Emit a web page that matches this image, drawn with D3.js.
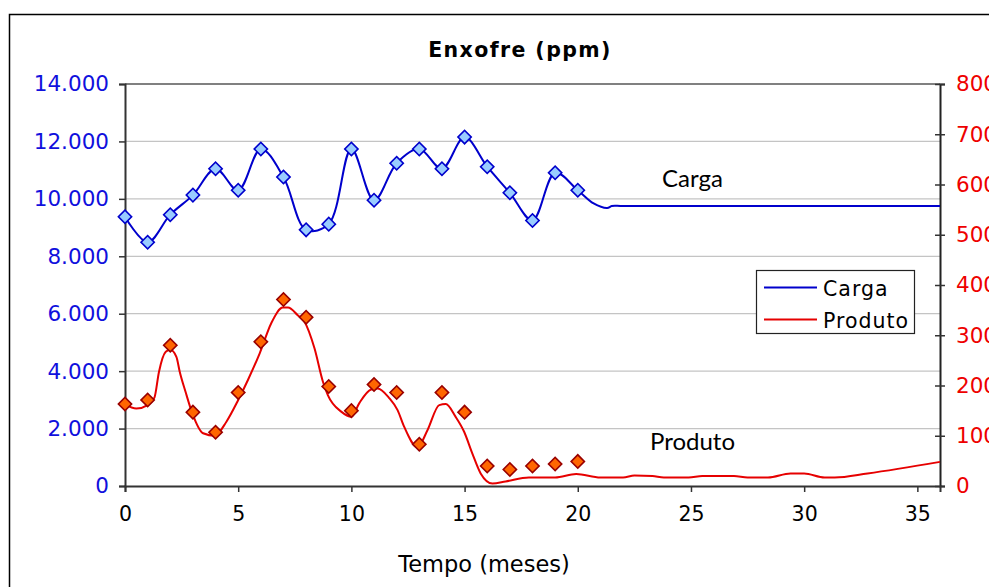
<!DOCTYPE html>
<html>
<head>
<meta charset="utf-8">
<script src="https://cdn.jsdelivr.net/npm/d3@7"></script>
<style>
  html, body { margin: 0; padding: 0; background: #fff; }
  svg { display: block; }
</style>
</head>
<body>
<svg id="chart" width="989" height="587"></svg>
<script>
// Enxofre (ppm): carga (eixo esquerdo) e produto (eixo direito) ao longo dos meses

// Medições mensais (marcadores)
const mesesMedidos = [0, 1, 2, 3, 4, 5, 6, 7, 8, 9, 10, 11, 12, 13, 14, 15, 16, 17, 18, 19, 20];
const cargaMedida = [9380, 8490, 9450, 10130, 11050, 10300, 11740, 10760, 8920, 9120, 11740,
                     9950, 11240, 11740, 11050, 12150, 11120, 10210, 9250, 10910, 10300];
const produtoMedido = [163, 171, 280, 147, 107, 186, 287, 371, 336, 198, 150,
                       202, 186, 83, 186, 147, 40, 33, 40, 44, 49];

// Curva da carga (linha azul)
const curvaCargaMes = [0, 1, 2, 3, 4, 5, 6, 7, 8, 9, 10, 11, 12, 13, 14, 15, 16, 17, 18, 19, 20,
                       20.7, 21.3, 21.5, 22, 36];
const curvaCargaValor = [9380, 8490, 9450, 10130, 11050, 10300, 11740, 10760, 8920, 9120, 11740,
                         9950, 11240, 11740, 11050, 12150, 11120, 10210, 9250, 10910, 10300,
                         9840, 9680, 9750, 9750, 9750];

// Curva do produto (linha vermelha)
const curvaProdutoMes = [0, 0.5, 1, 1.3, 1.5, 1.8, 2, 2.27, 2.42, 2.67, 2.97, 3.45, 3.96, 4.48, 5,
                         5.43, 5.95, 6.46, 6.97, 7.2, 7.63, 7.93, 8.37, 8.74, 8.96, 9.55, 10, 10.35,
                         10.87, 11.16, 11.67, 12.04, 12.33, 12.92, 13.36, 13.88, 14.17, 14.6, 14.98,
                         15.34, 15.71, 16.23, 16.81, 17.84, 19, 19.93, 21, 22, 22.5, 23.3, 23.8,
                         24.9, 25.5, 26.9, 27.5, 28.4, 29.4, 30, 30.9, 31.35, 32.8, 36];
const curvaProdutoValor = [163, 154, 161, 176, 227, 267, 271, 257, 227, 188, 145, 105, 100, 128, 171,
                           211, 264, 324, 355, 355, 340, 327, 274, 208, 181, 148, 138, 165,
                           192, 194, 175, 151, 118, 77, 111, 161, 163, 138, 108,
                           65, 25, 5, 9, 17, 17, 24, 17, 17, 21, 20, 17,
                           17, 20, 20, 17, 17, 25, 25, 17, 17, 25, 48];

const ticksEsquerda = [0, 2000, 4000, 6000, 8000, 10000, 12000, 14000];
const ticksDireita = [0, 100, 200, 300, 400, 500, 600, 700, 800];
const ticksMeses = [0, 5, 10, 15, 20, 25, 30, 35];

const titulo = "Enxofre (ppm)";
const tituloX = "Tempo (meses)";
const nomes = ["Carga", "Produto"];

const cores = {
  carga: "#0000cc", cargaFill: "#99ccff",
  produto: "#e60000", produtoFill: "#ff6600", produtoStroke: "#990000",
  rotEsq: "#1010dd", rotDir: "#ee0000"
};

const svg = d3.select("#chart");
const m = { left: 125, right: 940, top: 84, bottom: 486 };

const x = d3.scaleLinear().domain([0, 36]).range([m.left, m.right]);
const yL = d3.scaleLinear().domain([0, 14000]).range([m.bottom, m.top]);
const yR = d3.scaleLinear().domain([0, 800]).range([m.bottom, m.top]);

const fmtPt = v => d3.format(",.0f")(v).replace(/,/g, ".");

// Moldura externa
svg.append("rect")
  .attr("x", 9.5).attr("y", 14.5).attr("width", 1000).attr("height", 600)
  .attr("fill", "none").attr("stroke", "#000").attr("stroke-width", 1.5);

// Grade horizontal
svg.append("g").selectAll("line")
  .data(ticksEsquerda.filter(t => t > 0))
  .join("line")
  .attr("x1", m.left).attr("x2", m.right)
  .attr("y1", d => yL(d)).attr("y2", d => yL(d))
  .attr("stroke", d => d === 14000 ? "#808080" : "#c4c4c4")
  .attr("stroke-width", d => d === 14000 ? 2 : 1.2);

// Eixo esquerdo
const axL = svg.append("g").attr("transform", `translate(${m.left},0)`)
  .call(d3.axisLeft(yL).tickValues(ticksEsquerda).tickFormat(fmtPt).tickSize(6).tickPadding(10));
axL.select(".domain").attr("stroke", "#333").attr("stroke-width", 2);
axL.selectAll(".tick line").attr("stroke", "#333").attr("stroke-width", 1.5);
axL.selectAll(".tick text")
  .attr("fill", cores.rotEsq).attr("font-family", "DejaVu Sans").attr("font-size", 21.5);

// Eixo direito
const axR = svg.append("g").attr("transform", `translate(${m.right},0)`)
  .call(d3.axisRight(yR).tickValues(ticksDireita).tickSize(5).tickPadding(11));
axR.select(".domain").attr("stroke", "#222").attr("stroke-width", 2);
axR.selectAll(".tick line").attr("stroke", "#333").attr("stroke-width", 1.5).attr("x1", -5);
axR.selectAll(".tick text")
  .attr("fill", cores.rotDir).attr("font-family", "DejaVu Sans").attr("font-size", 21.5);

// Eixo inferior
const axB = svg.append("g").attr("transform", `translate(0,${m.bottom})`)
  .call(d3.axisBottom(x).tickValues(ticksMeses).tickSize(6).tickPadding(14));
axB.select(".domain").attr("stroke", "#333").attr("stroke-width", 2);
axB.selectAll(".tick line").attr("stroke", "#333").attr("stroke-width", 1.5);
axB.selectAll(".tick text")
  .attr("fill", "#000").attr("font-family", "DejaVu Sans").attr("font-size", 20.5);

// Título e rótulo do eixo x
svg.append("text").attr("x", 520).attr("y", 57).attr("text-anchor", "middle")
  .attr("font-family", "DejaVu Sans").attr("font-weight", "bold").attr("font-size", 20.5)
  .attr("letter-spacing", 1.4).text(titulo);
svg.append("text").attr("x", 484).attr("y", 572).attr("text-anchor", "middle")
  .attr("font-family", "DejaVu Sans").attr("font-size", 22.5).text(tituloX);

// Linhas
const linhaCarga = d3.line().x(d => x(d[0])).y(d => yL(d[1])).curve(d3.curveCatmullRom.alpha(0.5));
const linhaProduto = d3.line().x(d => x(d[0])).y(d => yR(d[1])).curve(d3.curveMonotoneX);

svg.append("path")
  .datum(d3.zip(curvaCargaMes, curvaCargaValor))
  .attr("d", linhaCarga).attr("fill", "none")
  .attr("stroke", cores.carga).attr("stroke-width", 2);

svg.append("path")
  .datum(d3.zip(curvaProdutoMes, curvaProdutoValor))
  .attr("d", linhaProduto).attr("fill", "none")
  .attr("stroke", cores.produto).attr("stroke-width", 2);

// Marcadores em losango
const losango = d3.symbol(d3.symbolSquare, 88);

svg.append("g").selectAll("path")
  .data(d3.zip(mesesMedidos, cargaMedida))
  .join("path")
  .attr("d", losango)
  .attr("transform", d => `translate(${x(d[0])},${yL(d[1])}) rotate(45)`)
  .attr("fill", cores.cargaFill).attr("stroke", cores.carga).attr("stroke-width", 1.6);

svg.append("g").selectAll("path")
  .data(d3.zip(mesesMedidos, produtoMedido))
  .join("path")
  .attr("d", losango)
  .attr("transform", d => `translate(${x(d[0])},${yR(d[1])}) rotate(45)`)
  .attr("fill", cores.produtoFill).attr("stroke", cores.produtoStroke).attr("stroke-width", 1.6);

// Rótulos das séries
svg.append("text").attr("x", 662).attr("y", 187)
  .attr("font-family", "Lato").attr("font-size", 24).attr("fill", "#000").text(nomes[0]);
svg.append("text").attr("x", 650).attr("y", 450)
  .attr("font-family", "Lato").attr("font-size", 24).attr("fill", "#000").text(nomes[1]);

// Legenda
const leg = svg.append("g");
leg.append("rect").attr("x", 756.5).attr("y", 270.5).attr("width", 158).attr("height", 63)
  .attr("fill", "#fff").attr("stroke", "#222").attr("stroke-width", 1.2);
const legCores = [cores.carga, cores.produto];
nomes.forEach((n, i) => {
  const yy = 287.5 + i * 32;
  leg.append("line").attr("x1", 764).attr("x2", 817).attr("y1", yy).attr("y2", yy)
    .attr("stroke", legCores[i]).attr("stroke-width", 2);
  leg.append("text").attr("x", 823).attr("y", yy + 8)
    .attr("font-family", "DejaVu Sans").attr("font-size", 20.5).attr("letter-spacing", 1)
    .attr("fill", "#000").text(n);
});
</script>
</body>
</html>
